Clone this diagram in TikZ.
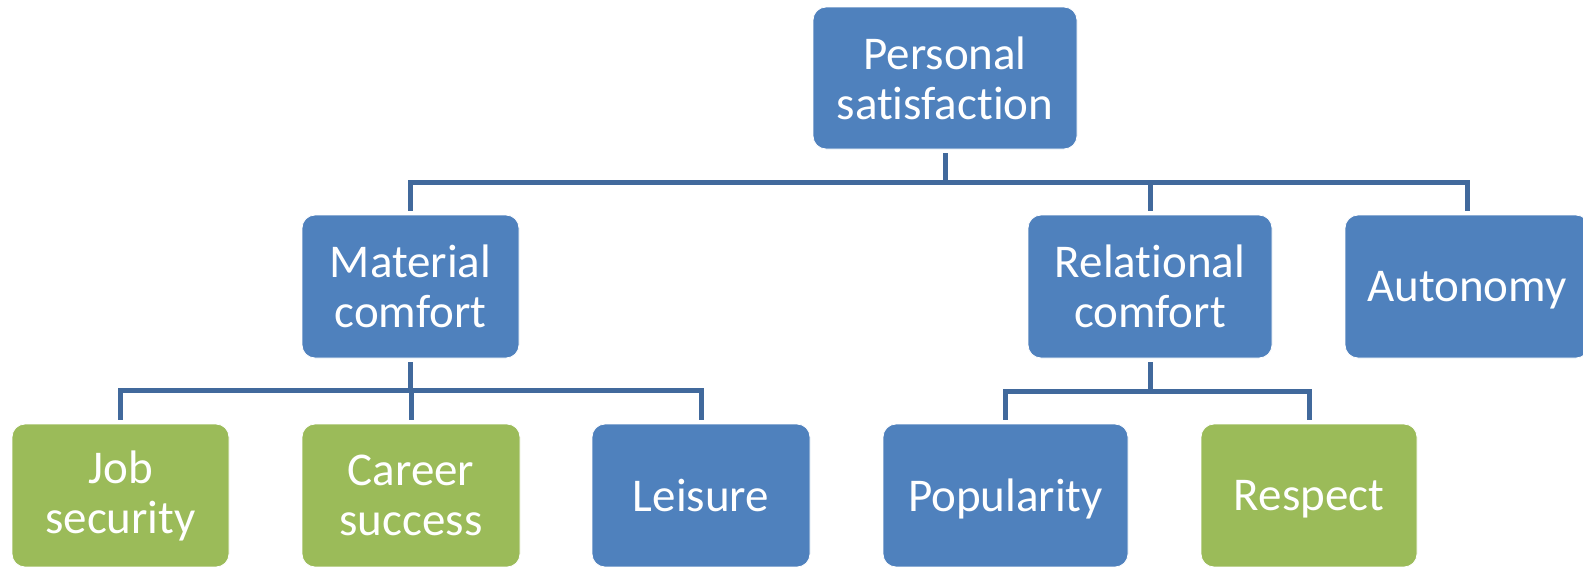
\documentclass[tikz,border=0pt]{standalone}
\usepackage{fontspec}
\setmainfont{Carlito}[Ligatures=NoCommon]
\usepackage{tikz}
\usetikzlibrary{positioning,calc}
\definecolor{boxblue}{HTML}{4F81BD}
\definecolor{boxgreen}{HTML}{9BBB59}
\definecolor{linkblue}{HTML}{41699C}
\def \gp {4pt}
\newcommand\boxfont{\fontsize{47pt}{50pt}\selectfont}

\begin{document}
\begin{tikzpicture}[x=1pt,y=-1pt,
    tbox/.style={rounded corners=13pt, minimum height=143pt, inner sep=0pt,
      text=white, font=\boxfont, align=center, draw=white, line width=0.8pt},
    bluenode/.style={tbox, fill=boxblue},
    greennode/.style={tbox, fill=boxgreen},
    oneline/.style={text depth=0pt},
    link/.style={draw=linkblue, line width=5pt, shorten <=\gp, shorten >=\gp}]
    \useasboundingbox (0,0) rectangle (1583,566);
    % top level
    \node[bluenode, minimum width=264pt, minimum height=142pt] (ps) at (945,78) {Personal\\satisfaction};
    % second level
    \node[bluenode, minimum width=217pt] (mc) at (410.5,286.5) {Material\\comfort};
    \node[bluenode, minimum width=244pt] (rc) at (1150,286.5) {Relational\\comfort};
    \node[bluenode, oneline, minimum width=244pt] (au) at (1467,286.5) {Autonomy};
    % third level
    \node[greennode, minimum width=217pt] (js) at (120.5,495.5) {Job\\security};
    \node[greennode, minimum width=218pt] (cs) at (411,495.5) {Career\\success};
    \node[bluenode, oneline, minimum width=218pt] (le) at (701,495.5) {Leisure};
    \node[bluenode, oneline, minimum width=245pt] (po) at (1005.5,495.5) {Popularity};
    \node[greennode, oneline, minimum width=216pt] (re) at (1309,495.5) {Respect};
    % connectors
    \foreach \c in {mc,rc,au}
      \draw[link] (ps.south) -- ++(0,33) -| (\c.north);
    \foreach \c in {js,cs,le}
      \draw[link] (mc.south) -- ++(0,32) -| (\c.north);
    \foreach \c in {po,re}
      \draw[link] (rc.south) -- ++(0,33) -| (\c.north);
\end{tikzpicture}
\end{document}
